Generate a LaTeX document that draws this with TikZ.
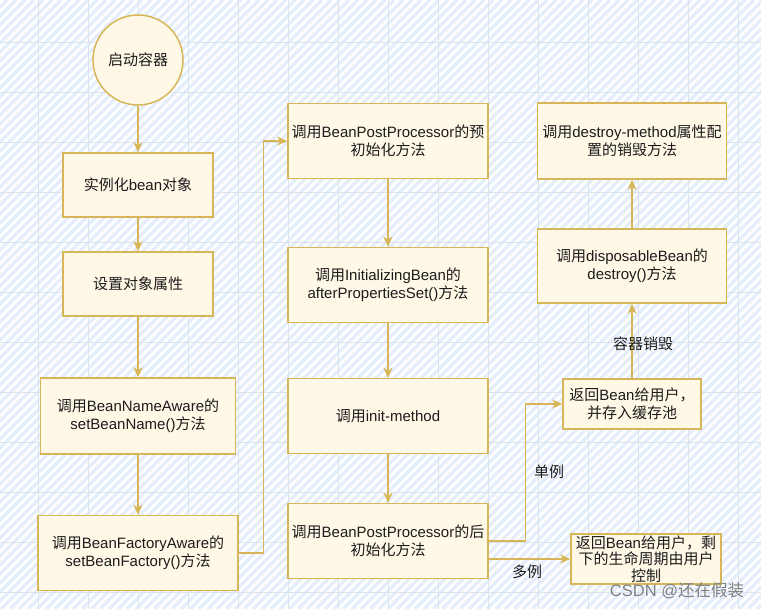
\documentclass[tikz,border=0pt]{standalone}
\usepackage{fontspec}
\setmainfont{Liberation Sans}
\newfontfamily\cjk{Noto Sans CJK SC}
\usetikzlibrary{arrows.meta}

\definecolor{gold}{RGB}{214,182,86}
\definecolor{paleyel}{RGB}{255,248,230}
\definecolor{gridc}{RGB}{220,227,237}
\definecolor{stripe}{RGB}{229,238,252}
\definecolor{ink}{RGB}{28,28,28}

\newcommand{\zh}[1]{{\cjk #1}}

\tikzset{
  box/.style={draw=gold, line width=1.5pt, fill=paleyel, text=ink,
    minimum width=200pt, minimum height=75pt, inner sep=0pt, align=center,
    font=\fontsize{15}{18}\selectfont},
  startnode/.style={circle, draw=gold, line width=1.5pt, fill=paleyel, text=ink,
    minimum size=90pt, inner sep=0pt, font=\fontsize{15}{18}\selectfont},
  link/.style={draw=gold, line width=1.1pt, -{Stealth[length=10pt,width=9pt,inset=3pt]}},
  lbl/.style={text=ink, inner sep=1pt, font=\fontsize{15}{18}\selectfont}
}

\begin{document}
\begin{tikzpicture}[x=1pt, y=-1pt]
  \useasboundingbox (0,0) rectangle (761,609);

  % background with stripes and grid
  \fill[white] (0,0) rectangle (761,609);
  \begin{scope}
    \clip (0,0) rectangle (761,609);
    \foreach \x in {-620,-611,...,770}
      \draw[stripe, line width=3.2pt] (\x,609) -- ++(609,-609);
  \end{scope}
  \foreach \x in {38,88,...,738}
    \draw[gridc, line width=0.8pt] (\x,0) -- (\x,609);
  \foreach \y in {42,92,...,592}
    \draw[gridc, line width=0.8pt] (0,\y) -- (761,\y);

  % left column
  \node[startnode] (start) at (138,60) {\zh{启动容器}};
  \node[box, minimum width=150pt, minimum height=64pt] (inst) at (138,185) {\zh{实例化}bean\zh{对象}};
  \node[box, minimum width=150pt, minimum height=64pt] (prop) at (138,284) {\zh{设置对象属性}};
  \node[box, minimum width=195pt, minimum height=76pt] (nameaware) at (138,416)
    {\zh{调用}BeanNameAware\zh{的}\\setBeanName()\zh{方法}};
  \node[box] (factaware) at (138,553)
    {\zh{调用}BeanFactoryAware\zh{的}\\setBeanFactory()\zh{方法}};

  % middle column
  \node[box] (prebpp) at (388,141) {\zh{调用}BeanPostProcessor\zh{的预}\\\zh{初始化方法}};
  \node[box] (initbean) at (388,285) {\zh{调用}InitializingBean\zh{的}\\afterPropertiesSet()\zh{方法}};
  \node[box] (initmeth) at (388,416) {\zh{调用}init-method};
  \node[box] (postbpp) at (388,541) {\zh{调用}BeanPostProcessor\zh{的后}\\\zh{初始化方法}};

  % right column
  \node[box, minimum width=189pt, minimum height=76pt] (destroym) at (632,141)
    {\zh{调用}destroy-method\zh{属性配}\\\zh{置的销毁方法}};
  \node[box, minimum width=189pt, minimum height=74pt] (dispbean) at (632,266)
    {\zh{调用}disposableBean\zh{的}\\destroy()\zh{方法}};
  \node[box, minimum width=138pt, minimum height=50pt] (single) at (632,404)
    {\zh{返回}Bean\zh{给用户，}\\\zh{并存入缓存池}};
  \node[box, minimum width=150pt, minimum height=50pt, font=\fontsize{15}{16.5}\selectfont] (multi) at (646,559)
    {\zh{返回}Bean\zh{给用户，剩}\\\zh{下的生命周期由用户}\\\zh{控制}};

  % connectors
  \draw[link] (start) -- (inst);
  \draw[link] (inst) -- (prop);
  \draw[link] (prop) -- (nameaware);
  \draw[link] (nameaware) -- (factaware);
  \draw[link] (factaware.east) -- ++(25,0) |- (prebpp.west);
  \draw[link] (prebpp) -- (initbean);
  \draw[link] (initbean) -- (initmeth);
  \draw[link] (initmeth) -- (postbpp);
  \draw[link] (postbpp.east) -- ++(37,0) |- (single.west);
  \draw[link] (postbpp.east |- multi.west) -- (multi.west);
  \draw[link] (single) -- (dispbean);
  \draw[link] (dispbean) -- (destroym);

  % labels
  \node[lbl] (lsingle) at (549,472) {\zh{单例}};
  \node[lbl] (lmulti) at (527,572) {\zh{多例}};
  \node[lbl] (ldestroy) at (643,344) {\zh{容器销毁}};
  \node[text=black!50, inner sep=0pt, font=\fontsize{16.5}{18}\selectfont] (mark) at (677,591) {CSDN @\zh{还在假装}};
\end{tikzpicture}
\end{document}
